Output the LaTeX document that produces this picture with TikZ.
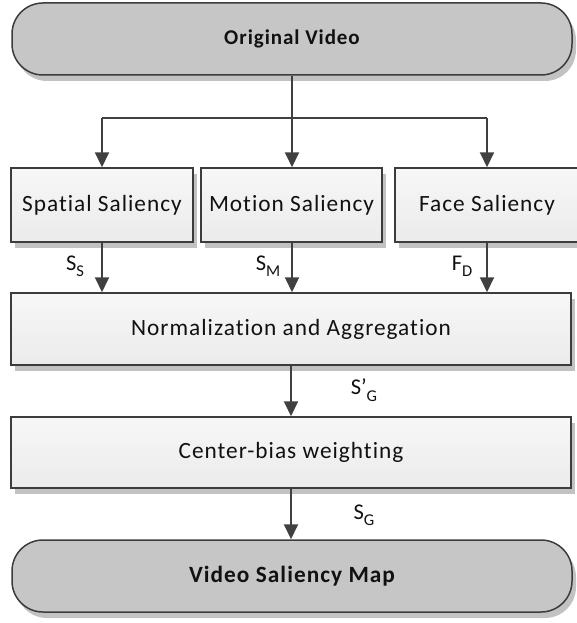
\documentclass[tikz,border=0pt]{standalone}
\usepackage{fontspec}
\setmainfont[Ligatures=NoCommon]{Carlito}
\usetikzlibrary{arrows.meta,shadows,shapes.misc}

\definecolor{edgegray}{HTML}{3C3C3C}
\definecolor{linkgray}{HTML}{404040}
\definecolor{termfill}{HTML}{C6C6C6}
\definecolor{boxtop}{HTML}{F7F7F7}
\definecolor{boxbot}{HTML}{EBEBEB}
\definecolor{shadowgray}{HTML}{C2C2C2}
\definecolor{inkgray}{HTML}{111111}

\tikzset{
  terminal/.style={draw=edgegray, line width=1.5pt, fill=termfill,
    rounded corners=31pt, minimum width=560pt, minimum height=72pt,
    inner sep=0pt, text=inkgray,
    drop shadow={shadow xshift=4pt, shadow yshift=-6pt, fill=shadowgray, opacity=1}},
  boldtext/.style={font=\fontsize{#1}{24}\selectfont\bfseries\addfontfeature{LetterSpace=4.5}},
  process/.style={draw=edgegray, line width=1.5pt, top color=boxtop, bottom color=boxbot,
    minimum height=74pt, inner sep=0pt, text=inkgray,
    font=\fontsize{23.3}{27}\selectfont\addfontfeature{LetterSpace=4.3},
    drop shadow={shadow xshift=4pt, shadow yshift=-6pt, fill=shadowgray, opacity=1}},
  link/.style={draw=linkgray, line width=2pt, -{Triangle[length=15pt,width=14pt]}},
  plainlink/.style={draw=linkgray, line width=2pt},
  sig/.style={inner sep=0pt, text=inkgray, font=\fontsize{22.5}{24}\selectfont},
}
\newcommand{\lowidx}[1]{\raisebox{-0.28em}{\fontsize{16.5}{16.5}\selectfont #1}}

\begin{document}
\begin{tikzpicture}[x=1pt, y=-1pt]
  \useasboundingbox (0,0) rectangle (576,623);

  % start and end terminals
  \node[terminal, boldtext=21] (src) at (292,39) {Original Video};
  \node[terminal, boldtext=23.3] (dst) at (292,576) {Video Saliency Map};

  % three saliency estimators
  \node[process, minimum width=182pt] (spat) at (102,205) {Spatial Saliency};
  \node[process, minimum width=181pt] (mot) at (291.5,205) {Motion Saliency};
  \node[process, minimum width=184pt] (face) at (487,205) {Face Saliency};

  % fusion stages
  \node[process, minimum width=560pt, minimum height=72pt] (agg) at (291,329) {Normalization and Aggregation};
  \node[process, minimum width=560pt, minimum height=71pt] (cb) at (291,452.5) {Center-bias weighting};

  % fan-out from the source
  \coordinate (split) at (292,118);
  \coordinate (splitL) at (102,118);
  \coordinate (splitR) at (487,118);
  \draw[plainlink] (src.south -| split) -- (split);
  \draw[plainlink] (splitL) -- (splitR);
  \draw[link] (splitL) -- (spat.north -| splitL);
  \draw[link] (split) -- (mot.north -| split);
  \draw[link] (splitR) -- (face.north -| splitR);

  % maps into the aggregation stage
  \draw[link] (spat.south -| splitL) -- (agg.north -| splitL);
  \draw[link] (mot.south -| split) -- (agg.north -| split);
  \draw[link] (face.south -| splitR) -- (agg.north -| splitR);

  \coordinate (mid) at (291,0);
  \draw[link] (agg.south -| mid) -- (cb.north -| mid);
  \draw[link] (cb.south -| mid) -- (dst.north -| mid);

  % signal labels
  \node[sig] (ls) at (75,266) {S\lowidx{S}};
  \node[sig] (lm) at (268,266) {S\lowidx{M}};
  \node[sig] (lf) at (462,266) {F\lowidx{D}};
  \node[sig] (lgp) at (364,390) {S’\lowidx{G}};
  \node[sig] (lg) at (364,515) {S\lowidx{G}};
\end{tikzpicture}
\end{document}
